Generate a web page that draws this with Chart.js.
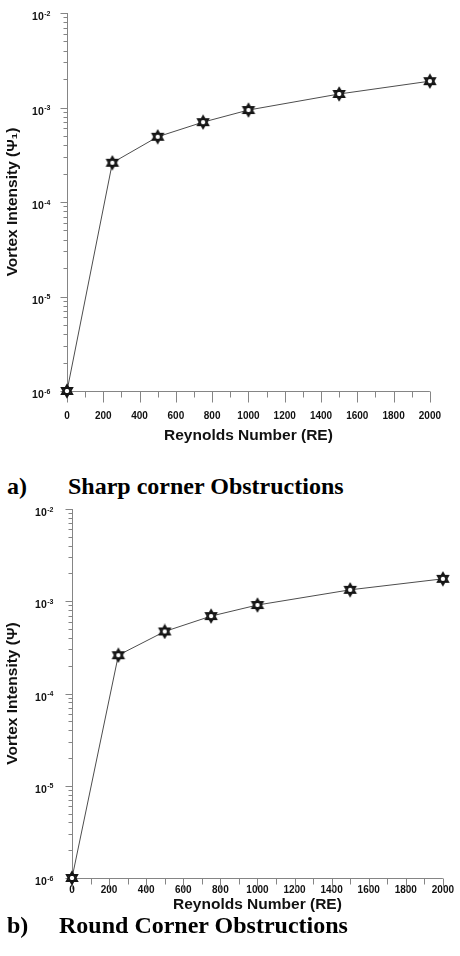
<!DOCTYPE html>
<html>
<head>
<meta charset="utf-8">
<script src="https://cdn.jsdelivr.net/npm/chart.js@4.4.1/dist/chart.umd.min.js"></script>
<style>
body{margin:0;width:460px;height:956px;background:#fff;position:relative;overflow:hidden}
.box{position:absolute;left:0}
.box canvas{display:block}
.cap{position:absolute;left:0;width:460px;height:24px;font:bold 24px 'Liberation Serif','Times New Roman',serif;line-height:24px;color:#000;white-space:nowrap}
.cap span{position:absolute;top:0}
</style>
</head>
<body>
<div class="box" style="top:0"><canvas id="c1" width="460" height="445"></canvas></div>
<div class="cap" style="top:474px"><span style="left:7px">a)</span><span style="left:68px">Sharp corner Obstructions</span></div>
<div class="box" style="top:500px"><canvas id="c2" width="460" height="414"></canvas></div>
<div class="cap" style="top:913px"><span style="left:7px">b)</span><span style="left:59px">Round Corner Obstructions</span></div>
<script>
// data
const reynolds = [0, 250, 500, 750, 1000, 1500, 2000]
const sharpVortex = [1.0e-6, 2.6e-4, 4.9e-4, 7.0e-4, 9.4e-4, 1.39e-3, 1.9e-3]
const roundVortex = [1.0e-6, 2.6e-4, 4.7e-4, 6.9e-4, 9.1e-4, 1.33e-3, 1.75e-3]
const xTicks = [0, 200, 400, 600, 800, 1000, 1200, 1400, 1600, 1800, 2000]
const yDecades = [1e-6, 1e-5, 1e-4, 1e-3, 1e-2]
const yExponents = ['-6', '-5', '-4', '-3', '-2']   // labels are 10 to these powers

const FONT = "'Liberation Sans', Arial, sans-serif"
Chart.defaults.font.family = FONT
Chart.defaults.color = '#111'

// star of david marker
function hexagram(r){
  let cv = document.createElement('canvas')
  let s = Math.ceil(r*2+4)
  cv.width = s; cv.height = s
  let g = cv.getContext('2d')
  g.translate(s/2, s/2)
  let tri = k => {
    g.beginPath()
    for(let i=0;i<3;i++){
      let a = -Math.PI/2 + k*Math.PI + i*2*Math.PI/3
      if(i==0) g.moveTo(r*Math.cos(a), r*Math.sin(a)); else g.lineTo(r*Math.cos(a), r*Math.sin(a))
    }
    g.closePath()
  }
  g.fillStyle = '#fff'
  tri(0); g.fill(); tri(1); g.fill()
  g.lineWidth = 1.8
  g.strokeStyle = '#151515'
  tri(0); g.stroke(); tri(1); g.stroke()
  return cv
}
const marker = hexagram(6)

// axis lines, outward ticks and 10^n labels
const axisTicks = {
  id: 'axisTicks',
  beforeDatasetsDraw(chart, args, opts){
    let ctx = chart.ctx
    let xs = chart.scales.x, ys = chart.scales.y
    let ca = chart.chartArea
    let L = Math.round(ca.left)+0.5, B = Math.round(ca.bottom)+0.5
    ctx.save()
    ctx.strokeStyle = '#858585'
    ctx.lineWidth = 1
    ctx.beginPath()
    ctx.moveTo(L, ca.top); ctx.lineTo(L, B)
    ctx.lineTo(ca.right, B)
    for(let i=0;i<yDecades.length;i++){
      let d = yDecades[i]
      let py = Math.round(ys.getPixelForValue(d))+0.5
      ctx.moveTo(L-7, py); ctx.lineTo(L, py)
      if(i<yDecades.length-1){
        for(let m=2;m<=9;m++){
          let q = Math.round(ys.getPixelForValue(m*d))+0.5
          ctx.moveTo(L-4, q); ctx.lineTo(L, q)
        }
      }
    }
    for(let i=0;i<xTicks.length;i++){
      let px = Math.round(xs.getPixelForValue(xTicks[i]))+0.5
      ctx.moveTo(px, B); ctx.lineTo(px, B+11)
      if(i<xTicks.length-1){
        let q = Math.round(xs.getPixelForValue((xTicks[i]+xTicks[i+1])/2))+0.5
        ctx.moveTo(q, B); ctx.lineTo(q, B+6)
      }
    }
    ctx.stroke()

    // y labels: "10" with raised exponent
    ctx.fillStyle = '#111'
    ctx.textBaseline = 'alphabetic'
    for(let i=0;i<yDecades.length;i++){
      let py = ys.getPixelForValue(yDecades[i])
      let right = L - opts.pad
      ctx.font = 'bold 7px ' + FONT
      let ew = ctx.measureText(yExponents[i]).width
      ctx.textAlign = 'left'
      ctx.fillText(yExponents[i], right - ew, py + 2.5)
      ctx.font = 'bold 10.5px ' + FONT
      ctx.textAlign = 'right'
      ctx.fillText('10', right - ew - 0.5, py + 7)
    }
    ctx.restore()
  }
}

function makeChart(id, values, yTitle, geo){
  return new Chart(document.getElementById(id), {
    type: 'line',
    data: {
      datasets: [{
        data: reynolds.map((r,i)=>({x:r, y:values[i]})),
        borderColor: '#4d4d4d',
        borderWidth: 1,
        pointStyle: marker,
        pointRadius: 6,
        clip: false,
        tension: 0
      }]
    },
    options: {
      responsive: false,
      animation: false,
      events: [],
      layout: {padding: {top: geo.top, right: geo.right, left: 0, bottom: 0}},
      plugins: {legend: {display: false}, tooltip: {enabled: false}, axisTicks: {pad: geo.ypad}},
      scales: {
        x: {
          type: 'linear', min: 0, max: 2000,
          grid: {display: false, drawTicks: false},
          border: {display: false},
          afterBuildTicks: s => { s.ticks = xTicks.map(v=>({value:v})) },
          afterFit: s => { s.height = geo.xh },
          ticks: {font: {size: 10, weight: 'bold'}, padding: geo.xpad, maxRotation: 0, autoSkip: false, callback: v => String(v)},
          title: {display: true, text: 'Reynolds Number (RE)', font: {size: 15.5, weight: 'bold'}, padding: {top: 0, bottom: 0}}
        },
        y: {
          type: 'logarithmic', min: 1e-6, max: 1e-2,
          grid: {display: false, drawTicks: false},
          border: {display: false},
          afterBuildTicks: s => { s.ticks = yDecades.map(v=>({value:v})) },
          afterFit: s => { s.width = geo.yw },
          ticks: {display: false},
          title: {display: true, text: yTitle, font: {size: 15.5, weight: 'bold'}, padding: {top: 3, bottom: 0}}
        }
      }
    },
    plugins: [axisTicks]
  })
}

makeChart('c1', sharpVortex, 'Vortex Intensity (Ψ₁)', {top: 13, right: 14, xh: 54, xpad: 19, yw: 67, ypad: 17})
makeChart('c2', roundVortex, 'Vortex Intensity (Ψ)', {top: 9, right: 17, xh: 36, xpad: 6, yw: 72, ypad: 19})
</script>
</body>
</html>
